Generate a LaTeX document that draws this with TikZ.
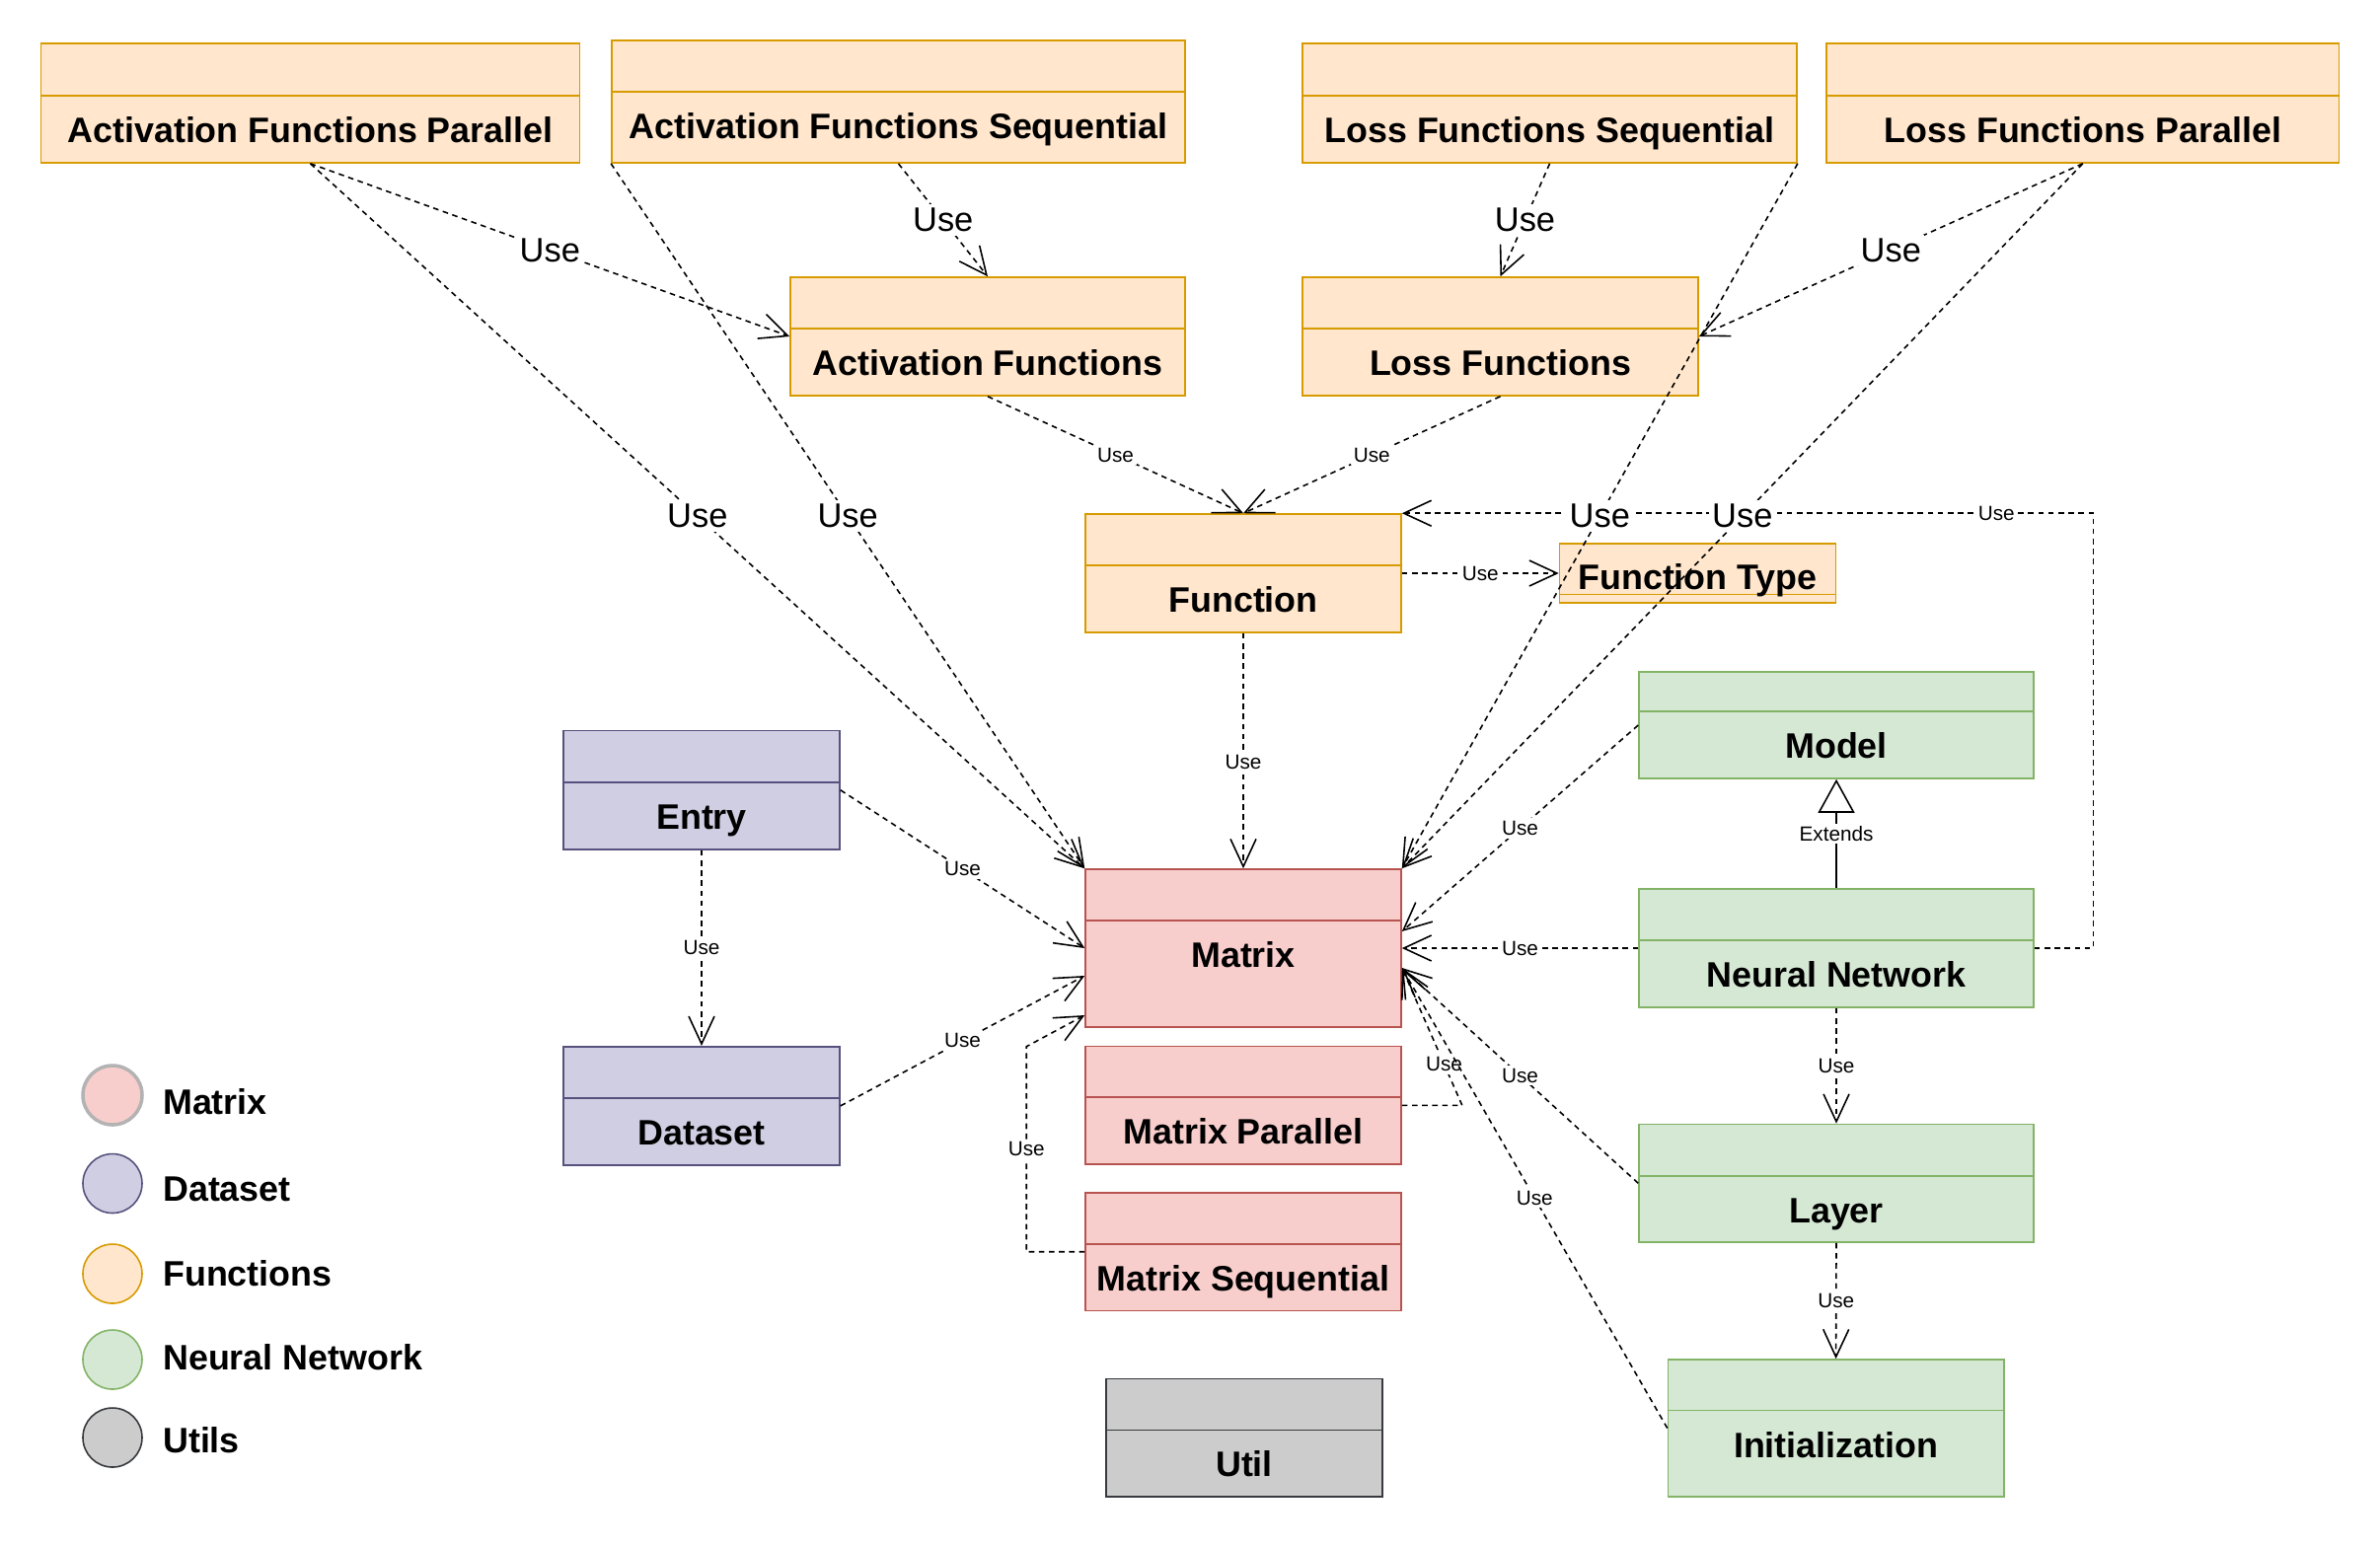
\documentclass[tikz,border=0pt]{standalone}
\usepackage{fontspec}
\setmainfont{Liberation Sans}
\usetikzlibrary{arrows.meta,calc,fit}

\definecolor{fnfill}{HTML}{FFE6CC}
\definecolor{fnline}{HTML}{D79B00}
\definecolor{mxfill}{HTML}{F8CECC}
\definecolor{mxline}{HTML}{B85450}
\definecolor{dsfill}{HTML}{D0CEE2}
\definecolor{dsline}{HTML}{56517E}
\definecolor{nnfill}{HTML}{D5E8D4}
\definecolor{nnline}{HTML}{82B366}
\definecolor{utfill}{HTML}{CCCCCC}
\definecolor{utline}{HTML}{36393D}
\definecolor{legline}{HTML}{B3B3B3}

% class box: name, colour, corner, corner, separator y, text base y, title
\newcommand{\umlclass}[7]{%
  \node[classbox, #2, fit={(#3) (#4)}] (#1) {};
  \draw[#2] (#1.west |- 0,#5) -- (#1.east |- 0,#5);
  \node[title, anchor=base] at (#1.center |- 0,#6) {#7};
}

\begin{document}
\begin{tikzpicture}[x=0.1mm, y=-0.1mm,
  classbox/.style={draw, inner sep=0pt, line width=0.45pt},
  fn/.style={draw=fnline, fill=fnfill, line width=0.45pt},
  mx/.style={draw=mxline, fill=mxfill, line width=0.45pt},
  ds/.style={draw=dsline, fill=dsfill, line width=0.45pt},
  nn/.style={draw=nnline, fill=nnfill, line width=0.45pt},
  ut/.style={draw=utline, fill=utfill, line width=0.45pt},
  mxleg/.style={draw=legline, fill=mxfill, line width=1pt},
  title/.style={font=\fontsize{10.2}{12}\selectfont\bfseries, inner sep=0pt},
  usearrow/.style={line width=0.45pt, dash pattern=on 1.6pt off 1.3pt,
    -{Straight Barb[length=2.8mm, width=2.6mm]}},
  lbl/.style={fill=white, inner sep=0.8pt, font=\fontsize{5.9}{7}\selectfont},
  biglbl/.style={fill=white, inner sep=1pt, font=\fontsize{9.8}{11}\selectfont}]
  \fill[white] (0,0) rectangle (2412,1568);
  \useasboundingbox (0,0) rectangle (2412,1568);

  % functions
  \umlclass{afpar}{fn}{41.5,44}{587.5,165}{97}{144}{Activation Functions Parallel}
  \umlclass{afseq}{fn}{620,41}{1201,165}{93}{140}{Activation Functions Sequential}
  \umlclass{lfseq}{fn}{1320,44}{1821,165}{97}{144}{Loss Functions Sequential}
  \umlclass{lfpar}{fn}{1851,44}{2370.5,165}{97}{144}{Loss Functions Parallel}
  \umlclass{actfun}{fn}{801,281}{1201,401}{333}{380}{Activation Functions}
  \umlclass{lossfun}{fn}{1320,281}{1721,401}{333}{380}{Loss Functions}
  \umlclass{function}{fn}{1100,521}{1420,641}{573}{620}{Function}
  \umlclass{functype}{fn}{1580.5,551}{1860.5,611}{602.5}{597}{Function Type}

  % matrix
  \umlclass{matrix}{mx}{1100,881}{1420,1041}{933}{980}{Matrix}
  \umlclass{matpar}{mx}{1100,1060.6}{1420,1180}{1112}{1159}{Matrix Parallel}
  \umlclass{matseq}{mx}{1100,1209}{1420,1328.5}{1261}{1308}{Matrix Sequential}

  % dataset
  \umlclass{entry}{ds}{571,740.6}{851,861}{793}{840}{Entry}
  \umlclass{dataset}{ds}{571,1060.7}{851,1181}{1113}{1160}{Dataset}

  % neural network
  \umlclass{model}{nn}{1661,681}{2061,789}{721}{768}{Model}
  \umlclass{neuralnet}{nn}{1661,901}{2061,1021}{953}{1000}{Neural Network}
  \umlclass{layer}{nn}{1661,1139.5}{2061,1259}{1191.7}{1239}{Layer}
  \umlclass{init}{nn}{1690.5,1378}{2030.7,1517}{1429.6}{1477}{Initialization}

  % utils
  \umlclass{util}{ut}{1121,1397.5}{1401,1517}{1449.4}{1496}{Util}

  % dependencies
  \draw[usearrow] (afpar.south) -- node[biglbl]{Use} (actfun.west);
  \draw[usearrow] (afpar.south) -- node[biglbl]{Use} (matrix.north west);
  \draw[usearrow] (afseq.south west) -- node[biglbl]{Use} (matrix.north west);
  \draw[usearrow] (afseq.south) -- node[biglbl]{Use} (actfun.north);
  \draw[usearrow] (lfseq.south) -- node[biglbl]{Use} (lossfun.north);
  \draw[usearrow] (lfpar.south) -- node[biglbl]{Use} (lossfun.east);
  \draw[usearrow] (neuralnet.east) -- ++(59.5,0) |- node[lbl, pos=0.57]{Use} (function.north east);
  \draw[usearrow] (lfseq.south east) -- node[biglbl]{Use} (matrix.north east);
  \draw[usearrow] (lfpar.south) -- node[biglbl]{Use} (matrix.north east);
  \draw[usearrow] (actfun.south) -- node[lbl]{Use} (function.north);
  \draw[usearrow] (lossfun.south) -- node[lbl]{Use} (function.north);
  \draw[usearrow] (function.south) -- node[lbl, pos=0.55]{Use} (matrix.north);
  \draw[usearrow] (function.east) -- node[lbl]{Use} (functype.west);
  \draw[usearrow] (neuralnet.west) -- node[lbl]{Use} (matrix.east);
  \draw[usearrow] (model.west) -- node[lbl]{Use} ($(matrix.east)+(0,-17)$);
  \draw[usearrow] (layer.west) -- node[lbl]{Use} ($(matrix.east)+(0,20)$);
  \draw[usearrow] (matpar.east) -- ++(61,0) -- node[lbl, pos=0.3]{Use} ($(matrix.east)+(0,20)$);
  \draw[usearrow] (init.west) -- node[lbl]{Use} ($(matrix.east)+(0,20)$);
  \draw[usearrow] (entry.east) -- node[lbl]{Use} (matrix.west);
  \draw[usearrow] (dataset.east) -- node[lbl]{Use} ($(matrix.west)+(0,28)$);
  \draw[usearrow] (matseq.west) -- ++(-59,0) -- node[lbl]{Use} ++(0,-208) -- ($(matrix.west)+(0,68)$);
  \draw[usearrow] (entry.south) -- node[lbl]{Use} (dataset.north);
  \draw[usearrow] (neuralnet.south) -- node[lbl]{Use} (layer.north);
  \draw[usearrow] (layer.south) -- node[lbl]{Use} (init.north);
  \draw[line width=0.45pt, -{Triangle[open, length=3.4mm, width=3.7mm]}]
    (neuralnet.north) -- node[lbl]{Extends} (model.south);

  % legend
  \foreach \c/\y/\b/\n/\t in {mxleg/1110/1129/lmx/Matrix, ds/1199.5/1217/lds/Dataset,
      fn/1291/1303/lfn/Functions, nn/1378/1388/lnn/Neural Network, ut/1457/1472/lut/Utils} {
    \node[circle, \c, minimum size=6mm, inner sep=0pt] (\n) at (114,\y) {};
    \node[title, anchor=base west] at (164.5,\b) {\t};
  }
\end{tikzpicture}
\end{document}
